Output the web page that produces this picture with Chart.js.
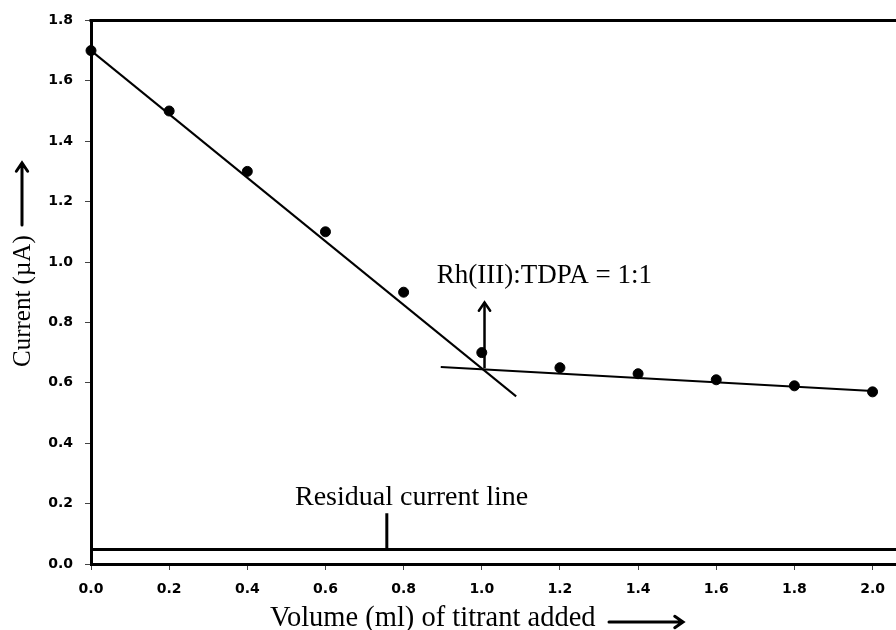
<!DOCTYPE html>
<html>
<head>
<meta charset="utf-8">
<script src="https://cdn.jsdelivr.net/npm/chart.js@4.4.1/dist/chart.umd.min.js"></script>
<style>
  html, body { margin: 0; padding: 0; background: #fff; overflow: hidden; }
  #wrap { width: 896px; height: 630px; }
  canvas { display: block; }
</style>
</head>
<body>
<div id="wrap"><canvas id="titrationChart" width="896" height="630"></canvas></div>
<script>
// measured points
const volume = [0.0, 0.2, 0.4, 0.6, 0.8, 1.0, 1.2, 1.4, 1.6, 1.8, 2.0];
const current = [1.70, 1.50, 1.30, 1.10, 0.90, 0.70, 0.65, 0.63, 0.61, 0.59, 0.57];

// fitted straight lines (end points)
const fallX = [0.0, 1.088];
const fallY = [1.70, 0.555];
const flatX = [0.895, 2.0];
const flatY = [0.652, 0.573];

// residual current line and its pointer
const residualX = [0.0, 2.06];
const residualY = [0.048, 0.048];
const residualMarkX = [0.757, 0.757];
const residualMarkY = [0.048, 0.168];

// end point arrow
const endArrowX = [1.007, 1.007];
const endArrowY = [0.648, 0.866];

const xTicks = [0.0, 0.2, 0.4, 0.6, 0.8, 1.0, 1.2, 1.4, 1.6, 1.8, 2.0];
const yTicks = [0.0, 0.2, 0.4, 0.6, 0.8, 1.0, 1.2, 1.4, 1.6, 1.8];

const pairs = (xs, ys) => xs.map((x, i) => ({ x: x, y: ys[i] }));

const serif = '"Liberation Serif", "Times New Roman", serif';

function drawArrow(ctx, x1, y1, x2, y2, head) {
    const ang = Math.atan2(y2 - y1, x2 - x1);
    ctx.beginPath();
    ctx.moveTo(x1, y1);
    ctx.lineTo(x2, y2);
    ctx.moveTo(x2 - head * Math.cos(ang - 0.6), y2 - head * Math.sin(ang - 0.6));
    ctx.lineTo(x2, y2);
    ctx.lineTo(x2 - head * Math.cos(ang + 0.6), y2 - head * Math.sin(ang + 0.6));
    ctx.stroke();
}

const decorations = {
    id: 'decorations',
    afterDatasetsDraw(chart) {
        const ctx = chart.ctx;
        const area = chart.chartArea;
        const xs = chart.scales.x;
        const ys = chart.scales.y;
        ctx.save();

        // top frame line
        ctx.strokeStyle = '#000';
        ctx.lineWidth = 3;
        ctx.beginPath();
        ctx.moveTo(area.left - 1.5, area.top);
        ctx.lineTo(area.right, area.top);
        ctx.stroke();

        // head of the end point arrow
        const meta = chart.getDatasetMeta(5);
        const p1 = meta.data[1];
        ctx.lineWidth = 2.5;
        ctx.lineCap = 'round';
        drawArrow(ctx, p1.x, p1.y + 1, p1.x, p1.y, 10);

        // annotations
        ctx.fillStyle = '#000';
        ctx.textBaseline = 'alphabetic';
        ctx.textAlign = 'left';
        ctx.font = '27px ' + serif;
        ctx.fillText('Rh(III):TDPA = 1:1', xs.getPixelForValue(0.885), ys.getPixelForValue(0.93));
        ctx.font = '28px ' + serif;
        ctx.fillText('Residual current line', xs.getPixelForValue(0.522), ys.getPixelForValue(0.194));

        // x axis title with arrow
        ctx.font = '28.5px ' + serif;
        ctx.fillText('Volume (ml) of titrant added', 270, 626);
        ctx.lineWidth = 3;
        drawArrow(ctx, 609, 622, 683, 622, 10);

        // y axis title with arrow
        ctx.font = '25px ' + serif;
        ctx.translate(30, 367);
        ctx.rotate(-Math.PI / 2);
        ctx.fillText('Current (\u00b5A)', 0, 0);
        drawArrow(ctx, 142, -8, 204, -8, 10);
        ctx.restore();
    }
};

const lineStyle = {
    showLine: true,
    borderColor: '#000',
    pointRadius: 0,
    pointHoverRadius: 0,
    fill: false,
    tension: 0
};

const chart = new Chart(document.getElementById('titrationChart').getContext('2d'), {
    type: 'scatter',
    data: {
        datasets: [
            {
                label: 'Current',
                data: pairs(volume, current),
                showLine: false,
                clip: false,
                pointRadius: 5,
                pointBackgroundColor: '#000',
                pointBorderColor: '#000',
                order: 0
            },
            Object.assign({ label: 'fall', data: pairs(fallX, fallY), borderWidth: 2 }, lineStyle),
            Object.assign({ label: 'flat', data: pairs(flatX, flatY), borderWidth: 2 }, lineStyle),
            Object.assign({ label: 'residual', data: pairs(residualX, residualY), borderWidth: 3 }, lineStyle),
            Object.assign({ label: 'residualMark', data: pairs(residualMarkX, residualMarkY), borderWidth: 3 }, lineStyle),
            Object.assign({ label: 'endArrow', data: pairs(endArrowX, endArrowY), borderWidth: 2.5 }, lineStyle)
        ]
    },
    options: {
        responsive: false,
        animation: false,
        events: [],
        layout: { autoPadding: false, padding: { top: 20, right: 0, left: 0, bottom: 0 } },
        plugins: {
            legend: { display: false },
            tooltip: { enabled: false }
        },
        scales: {
            x: {
                type: 'linear',
                min: 0,
                max: 2.06,
                afterBuildTicks: (scale) => { scale.ticks = xTicks.map(v => ({ value: v })); },
                afterFit: (scale) => { scale.height = 66; scale.paddingRight = 0; },
                grid: { drawOnChartArea: false, drawTicks: true, tickLength: 6, color: '#444', lineWidth: 1 },
                border: { display: true, color: '#000', width: 3 },
                ticks: {
                    padding: 11,
                    color: '#000',
                    font: { family: '"DejaVu Sans", Verdana, sans-serif', size: 14, weight: 'bold' },
                    callback: (v) => Number(v).toFixed(1)
                }
            },
            y: {
                type: 'linear',
                min: 0,
                max: 1.8,
                afterBuildTicks: (scale) => { scale.ticks = yTicks.map(v => ({ value: v })); },
                afterFit: (scale) => { scale.width = 91; },
                grid: { drawOnChartArea: false, drawTicks: true, tickLength: 6, color: '#444', lineWidth: 1 },
                border: { display: true, color: '#000', width: 3 },
                ticks: {
                    padding: 12,
                    color: '#000',
                    font: { family: '"DejaVu Sans", Verdana, sans-serif', size: 14, weight: 'bold' },
                    callback: (v) => Number(v).toFixed(1)
                }
            }
        }
    },
    plugins: [decorations]
});
</script>
</body>
</html>
